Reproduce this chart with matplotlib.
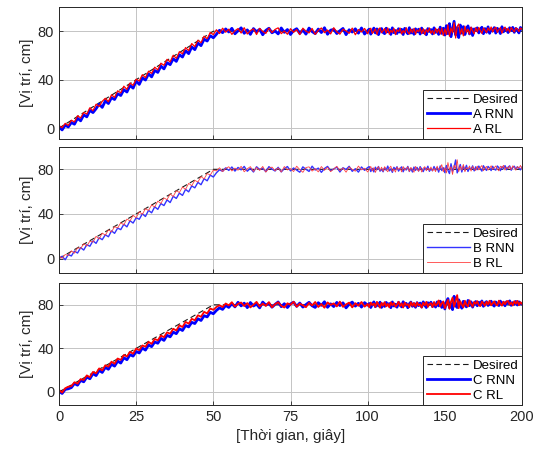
import numpy as np
import matplotlib
matplotlib.use('Agg')
from matplotlib import pyplot as plt

plt.rcParams['font.family'] = ['Liberation Sans', 'DejaVu Sans']

# time axis (seconds) and desired trajectory breakpoints
t = np.arange(0, 201)
desired_t = [0, 50, 200]
desired_y = [0, 80, 80]

# ---- controller A ----
a_rnn = [0.8, -1.5, 2.4, 0.9, 4.6, 3.2, 8.1, 6.0, 10.9, 9.3, 14.6, 12.8, 16.0, 19.8, 17.1, 22.4, 20.3,
         25.1, 23.6, 28.4, 26.9, 31.7, 29.8, 35.2, 33.0, 38.9, 36.1, 41.5, 39.7, 44.8, 42.3, 47.6, 46.0,
         51.2, 48.9, 54.0, 52.4, 57.3, 55.1, 60.6, 58.7, 63.9, 61.5, 67.0, 64.8, 70.2, 68.1, 73.4, 71.9,
         76.3, 74.6,
         77.5, 80.8, 78.8, 81.9, 79.4, 82.4, 77.9, 80.3, 82.8, 78.3,
         81.1, 77.4, 82.2, 79.6, 81.6, 77.1, 80.7, 82.5, 78.7, 80.2,
         77.8, 82.7, 79.1, 81.4, 77.3, 80.6, 82.1, 78.2, 81.0, 77.6,
         82.6, 79.7, 78.0, 81.8, 78.9, 82.9, 77.5, 80.9, 81.5, 78.1,
         80.4, 82.3, 77.2, 81.2, 79.3, 82.0, 78.4, 82.7, 77.7, 80.5,
         81.7, 77.6, 80.1, 82.6, 78.6, 81.9, 77.2, 80.8, 82.2, 79.0,
         78.0, 82.5, 79.5, 81.3, 77.4, 82.8, 78.8, 80.6, 78.1, 82.1,
         79.2, 81.6, 77.3, 82.4, 80.0, 77.9, 82.9, 78.5, 81.1, 77.5,
         82.0, 79.4, 81.7, 77.7, 82.6, 78.7, 80.5, 77.1, 82.2, 79.8,
         81.4, 77.8, 82.8, 79.0, 80.9, 77.4, 83.4, 78.2, 82.5, 76.9,
         84.6, 78.0, 86.3, 75.5, 81.8, 88.2, 77.0, 82.9, 74.8, 85.1,
         78.4, 83.8, 77.3, 81.5, 84.4, 77.8, 82.6, 76.5, 81.9, 80.6,
         82.8, 78.6, 81.1, 83.3, 78.0, 82.2, 79.2, 83.6, 78.3, 81.4,
         80.3, 83.0, 78.5, 82.4, 80.9, 78.1, 83.7, 79.5, 82.1, 81.2,
         78.9, 82.9, 80.6, 83.2, 79.1, 82.3, 81.0, 78.6, 83.1, 81.8]
a_rl = [2.1, 0.3, 3.9, 2.2, 6.5, 5.1, 10.2, 8.4, 12.9, 11.6, 16.8, 14.3, 19.7, 17.9, 22.1, 24.6, 21.8,
        27.5, 25.4, 30.8, 29.1, 34.6, 32.0, 37.2, 35.3, 40.4, 38.9, 44.1, 41.6, 47.0, 45.2, 50.3, 48.1,
        53.6, 51.9, 56.8, 54.7, 60.2, 57.6, 63.1, 61.4, 66.5, 64.0, 69.8, 67.3, 72.6, 70.5, 75.9, 73.8,
        79.0, 77.2,
        81.2, 78.1, 82.5, 79.2, 81.7, 77.4, 80.4, 82.2, 78.5, 82.9,
        77.7, 80.6, 81.9, 77.3, 82.4, 79.8, 78.2, 82.6, 78.9, 81.5,
        82.8, 78.0, 80.3, 77.5, 82.1, 79.1, 81.3, 77.2, 82.5, 80.1,
        78.6, 82.3, 77.4, 80.7, 82.7, 78.8, 81.0, 77.8, 82.9, 79.5,
        77.6, 81.6, 80.2, 78.3, 82.6, 77.1, 81.4, 79.4, 82.3, 77.9,
        80.9, 82.5, 78.2, 79.9, 82.0, 77.3, 81.6, 82.8, 78.7, 80.4,
        82.2, 78.4, 82.7, 77.6, 80.8, 79.0, 82.4, 77.2, 81.2, 79.7,
        82.6, 77.8, 80.5, 78.5, 82.9, 79.3, 77.6, 81.8, 78.9, 82.3,
        77.4, 81.1, 79.6, 82.5, 78.1, 82.0, 77.3, 81.5, 79.1, 82.7,
        78.3, 80.6, 77.5, 82.4, 78.8, 82.1, 77.7, 82.6, 76.4, 81.9,
        77.2, 85.4, 75.9, 82.7, 78.7, 87.1, 74.4, 83.9, 86.0, 77.6,
        82.1, 76.2, 84.2, 79.1, 81.7, 77.5, 83.4, 80.2, 77.9, 82.9,
        79.4, 83.1, 80.7, 78.2, 82.6, 81.0, 78.8, 82.8, 80.4, 83.5,
        79.3, 82.0, 83.3, 79.0, 81.6, 82.9, 78.4, 81.8, 83.4, 80.1,
        82.5, 79.2, 83.0, 81.3, 79.4, 82.7, 81.9, 79.7, 82.6, 81.5]

# ---- controller B ----
b_rnn = [0.4, 2.0, -1.1, 3.5, 2.3, 6.7, 4.9, 9.8, 7.6, 12.4, 11.0, 15.9, 13.6, 18.7, 16.9, 21.3, 19.5,
         24.8, 22.6, 27.3, 25.9, 30.7, 28.4, 33.9, 31.8, 36.6, 35.2, 40.1, 37.7, 43.2, 41.0, 46.4, 44.1,
         49.3, 47.5, 52.6, 50.2, 55.8, 53.9, 58.7, 56.6, 62.0, 59.8, 65.1, 63.4, 68.3, 66.2, 71.6, 69.7,
         74.8, 73.1,
         76.9, 79.6, 78.2, 81.3, 79.0, 82.1, 78.4, 81.7, 79.5, 82.6,
         78.3, 80.9, 77.6, 82.3, 79.8, 81.0, 77.9, 82.4, 80.2, 78.5,
         81.8, 77.7, 80.6, 82.5, 78.6, 81.2, 79.3, 77.4, 82.2, 80.0,
         78.1, 82.8, 79.4, 81.1, 77.3, 80.7, 82.6, 78.8, 80.3, 82.0,
         77.6, 81.4, 79.9, 82.7, 78.2, 80.5, 77.5, 82.1, 79.1, 81.6,
         82.4, 78.0, 80.8, 77.7, 81.9, 79.6, 82.5, 78.3, 80.1, 77.8,
         81.5, 79.2, 82.9, 78.6, 80.4, 77.3, 81.8, 79.9, 82.3, 78.4,
         80.7, 82.2, 77.8, 81.0, 79.4, 82.6, 78.1, 80.9, 77.6, 82.0,
         79.0, 81.7, 78.5, 82.4, 80.2, 77.9, 81.3, 79.7, 82.8, 78.2,
         80.6, 78.7, 82.5, 79.3, 81.6, 77.5, 83.0, 78.9, 81.4, 77.0,
         83.4, 79.1, 76.2, 85.0, 78.3, 81.9, 88.4, 76.8, 80.2, 84.3,
         77.6, 82.7, 79.4, 83.6, 78.1, 81.3, 80.0, 83.1, 78.6, 82.2,
         79.7, 82.9, 80.5, 78.4, 83.2, 80.8, 79.0, 82.6, 81.2, 78.9,
         82.7, 80.1, 79.3, 83.0, 81.5, 78.8, 82.4, 80.7, 83.3, 79.6,
         81.9, 83.1, 79.2, 81.6, 82.8, 80.0, 82.3, 80.9, 79.5, 82.1]
b_rl = [2.4, 0.1, 3.6, 2.7, 6.9, 4.8, 9.7, 8.9, 13.3, 11.2, 15.6, 14.7, 19.9, 17.5, 22.8, 20.9, 25.7,
        23.9, 28.6, 27.4, 32.1, 30.2, 35.4, 33.7, 38.8, 36.5, 41.9, 39.6, 44.7, 43.1, 48.0, 46.2, 51.5,
        49.4, 54.3, 52.8, 57.9, 55.6, 60.8, 59.2, 64.1, 62.0, 67.4, 65.3, 70.1, 68.6, 73.5, 71.4, 76.2,
        74.9, 79.3,
        78.6, 81.4, 77.9, 80.8, 82.3, 78.5, 81.1, 79.2, 82.7, 77.8,
        80.5, 82.4, 78.1, 81.7, 79.0, 82.6, 77.5, 80.9, 82.0, 78.7,
        81.3, 77.6, 82.5, 79.4, 80.7, 78.0, 82.8, 79.8, 77.3, 81.6,
        82.2, 78.4, 80.6, 77.7, 82.5, 79.1, 81.8, 77.9, 80.3, 82.7,
        78.8, 81.2, 77.4, 82.1, 80.0, 78.3, 82.9, 79.5, 81.0, 77.6,
        80.2, 82.6, 78.6, 81.5, 77.2, 80.8, 82.3, 79.0, 81.9, 78.1,
        82.4, 79.6, 77.8, 81.1, 82.8, 78.2, 80.4, 77.5, 82.0, 79.9,
        81.4, 77.7, 82.5, 79.3, 80.6, 82.2, 78.0, 81.7, 79.5, 77.4,
        82.6, 80.1, 78.3, 81.8, 77.6, 80.9, 82.4, 78.7, 81.2, 79.0,
        82.1, 78.5, 80.7, 77.9, 82.9, 79.4, 81.0, 84.2, 77.8, 81.5,
        76.7, 86.1, 79.6, 82.3, 75.4, 83.8, 80.5, 88.6, 77.9, 82.7,
        79.3, 84.4, 77.8, 81.6, 80.2, 83.0, 78.4, 82.5, 80.7, 78.9,
        82.9, 79.5, 81.8, 83.4, 78.7, 81.2, 82.6, 79.3, 80.8, 83.2,
        79.9, 81.4, 83.0, 80.3, 78.6, 82.8, 81.1, 83.6, 79.4, 82.0,
        80.6, 82.9, 79.8, 83.1, 81.7, 79.2, 82.4, 81.0, 83.5, 80.4]

# ---- controller C ----
c_rnn = [0.6, -1.4, 2.3, 2.9, 4.0, 7.8, 6.2, 10.6, 9.3, 13.7, 12.1, 16.9, 15.0, 19.8, 17.9, 22.6, 20.8,
         25.4, 23.7, 28.3, 26.5, 31.4, 29.6, 34.2, 32.9, 37.1, 35.8, 40.3, 38.4, 43.2, 41.6, 45.9, 44.7,
         49.2, 47.3, 52.0, 50.6, 54.9, 53.5, 58.1, 56.4, 61.0, 59.7, 63.9, 62.8, 67.2, 65.6, 70.0, 68.9,
         73.1, 71.8,
         74.9, 77.2, 75.8, 79.4, 77.6, 81.0, 78.1, 82.3, 79.0, 81.5,
         77.4, 82.1, 78.9, 80.6, 77.2, 82.5, 79.7, 81.3, 77.8, 80.4,
         82.6, 78.3, 81.0, 77.5, 80.8, 82.4, 78.6, 81.6, 77.9, 80.2,
         82.3, 79.1, 77.6, 81.9, 79.5, 82.8, 77.7, 80.9, 78.4, 82.2,
         79.3, 81.8, 77.2, 80.6, 82.5, 78.8, 81.4, 77.9, 82.0, 79.6,
         81.2, 77.5, 80.3, 82.7, 78.2, 81.5, 79.0, 82.4, 77.6, 80.8,
         78.5, 82.2, 79.8, 81.1, 77.4, 82.6, 78.9, 80.5, 77.8, 82.3,
         80.0, 78.1, 82.8, 79.4, 81.3, 77.3, 80.9, 82.5, 78.6, 81.0,
         77.7, 82.0, 79.2, 81.6, 78.0, 82.7, 79.6, 77.5, 81.9, 80.3,
         82.4, 78.4, 81.2, 77.9, 82.6, 79.0, 83.3, 77.6, 81.8, 76.2,
         82.5, 85.7, 77.4, 80.9, 75.6, 87.8, 79.3, 77.5, 84.6, 80.1,
         76.9, 83.2, 79.8, 78.1, 84.0, 79.2, 82.7, 77.9, 81.4, 83.0,
         79.1, 82.4, 80.0, 83.5, 78.6, 81.7, 82.9, 79.4, 81.0, 83.3,
         80.2, 78.8, 82.6, 81.0, 79.3, 83.4, 80.5, 82.2, 79.1, 82.8,
         81.2, 83.6, 79.5, 82.0, 80.4, 83.1, 79.8, 82.7, 81.3, 80.6]
c_rl = [1.9, -0.6, 3.4, 4.8, 5.3, 8.9, 7.6, 11.8, 11.0, 15.2, 13.6, 18.4, 17.1, 21.6, 19.8, 24.5, 23.2,
        27.8, 25.9, 30.7, 29.4, 33.9, 32.6, 36.8, 35.1, 39.9, 38.3, 42.7, 41.5, 45.9, 44.2, 48.6, 47.4,
        51.8, 50.3, 54.7, 53.5, 58.0, 56.4, 61.2, 59.6, 64.3, 62.7, 67.1, 65.8, 70.4, 69.0, 73.5, 72.1,
        76.6, 75.4,
        78.0, 79.6, 77.9, 81.2, 79.5, 82.4, 78.3, 80.9, 82.1, 78.8,
        81.6, 77.6, 80.2, 82.7, 78.4, 81.1, 79.0, 82.5, 77.7, 80.6,
        82.3, 79.2, 77.5, 81.4, 80.0, 82.8, 78.2, 81.0, 79.6, 77.8,
        81.7, 79.4, 82.6, 78.0, 80.7, 77.3, 82.2, 79.9, 81.3, 78.5,
        82.9, 78.1, 80.4, 82.0, 77.6, 81.5, 79.1, 82.6, 78.3, 80.8,
        77.9, 82.1, 79.7, 81.2, 78.0, 82.7, 80.3, 77.4, 81.8, 79.2,
        82.5, 78.6, 80.9, 77.7, 82.3, 79.5, 81.6, 78.2, 80.0, 82.8,
        78.9, 81.3, 77.5, 82.1, 79.8, 80.6, 77.8, 82.4, 79.0, 81.7,
        78.3, 82.2, 79.4, 80.5, 77.4, 81.9, 79.6, 82.7, 78.1, 80.8,
        81.5, 77.9, 82.6, 79.2, 80.7, 84.0, 78.5, 81.3, 83.1, 76.8,
        80.4, 84.5, 76.3, 82.9, 86.6, 78.2, 83.5, 88.9, 76.9, 83.2,
        80.1, 77.6, 83.7, 79.9, 78.5, 84.1, 80.7, 78.3, 82.6, 80.9,
        83.4, 79.6, 78.8, 83.0, 81.2, 79.1, 82.8, 80.4, 83.7, 79.5,
        81.3, 83.2, 80.1, 79.4, 83.8, 81.0, 79.2, 82.9, 80.6, 83.1,
        83.5, 80.2, 82.1, 79.4, 83.3, 81.0, 83.6, 79.7, 82.4, 80.9]

panels = [
    ('A', a_rnn, a_rl, (-9, 100), dict(color='#0000ff', lw=2.0), dict(color='#ff0000', lw=0.9)),
    ('B', b_rnn, b_rl, (-13, 100), dict(color='#3333ff', lw=1.0), dict(color='#ff4040', lw=0.6)),
    ('C', c_rnn, c_rl, (-12, 100), dict(color='#0000ff', lw=2.0), dict(color='#ff0000', lw=1.3)),
]
# axes rectangles [left, bottom, width, height] in figure fraction
rects = [[0.1089, 0.6972, 0.8542, 0.2875],
         [0.1089, 0.4052, 0.8542, 0.2745],
         [0.1089, 0.1176, 0.8542, 0.2658]]


def fwd(x):
    x = np.asarray(x, dtype=float)
    return np.where(x <= 100, x, 100 + (x - 100) / 2.0)


def inv(y):
    y = np.asarray(y, dtype=float)
    return np.where(y <= 100, y, 100 + (y - 100) * 2.0)


fig = plt.figure(figsize=(5.42, 4.59), dpi=100)
axcol = '#262626'

for i, (name, rnn, rl, ylim, rnn_style, rl_style) in enumerate(panels):
    ax = fig.add_axes(rects[i])
    ax.set_xscale('function', functions=(fwd, inv))
    ax.plot(desired_t, desired_y, '--', color='#1a1a1a', lw=0.8, dashes=(5, 3), label='Desired')
    ax.plot(t, rnn, label=name + ' RNN', **rnn_style)
    ax.plot(t, rl, label=name + ' RL', **rl_style)

    ax.set_xlim(0, 200)
    ax.set_ylim(*ylim)
    ax.set_xticks([0, 25, 50, 75, 100, 150, 200])
    ax.set_yticks([0, 40, 80])
    ax.grid(True, color='#c4c4c4', lw=0.7)
    ax.set_axisbelow(True)
    ax.tick_params(direction='in', length=3, width=0.6, colors=axcol, labelsize=10.5)
    for sp in ax.spines.values():
        sp.set_color(axcol)
        sp.set_linewidth(0.7)
    if i < 2:
        ax.set_xticklabels([])
    else:
        ax.set_xlabel('[Thời gian, giây]', fontsize=11, color=axcol, labelpad=4)
    ax.set_ylabel('[Vị trí, cm]', fontsize=11, color=axcol, labelpad=3)

    leg = ax.legend(loc='lower right', borderaxespad=0, fancybox=False, framealpha=1,
                    edgecolor=axcol, fontsize=9.5, handlelength=3.3, handletextpad=0.2,
                    labelspacing=0.2, borderpad=0.25)
    leg.get_frame().set_linewidth(0.7)

fig.savefig('out.png', dpi=100)
